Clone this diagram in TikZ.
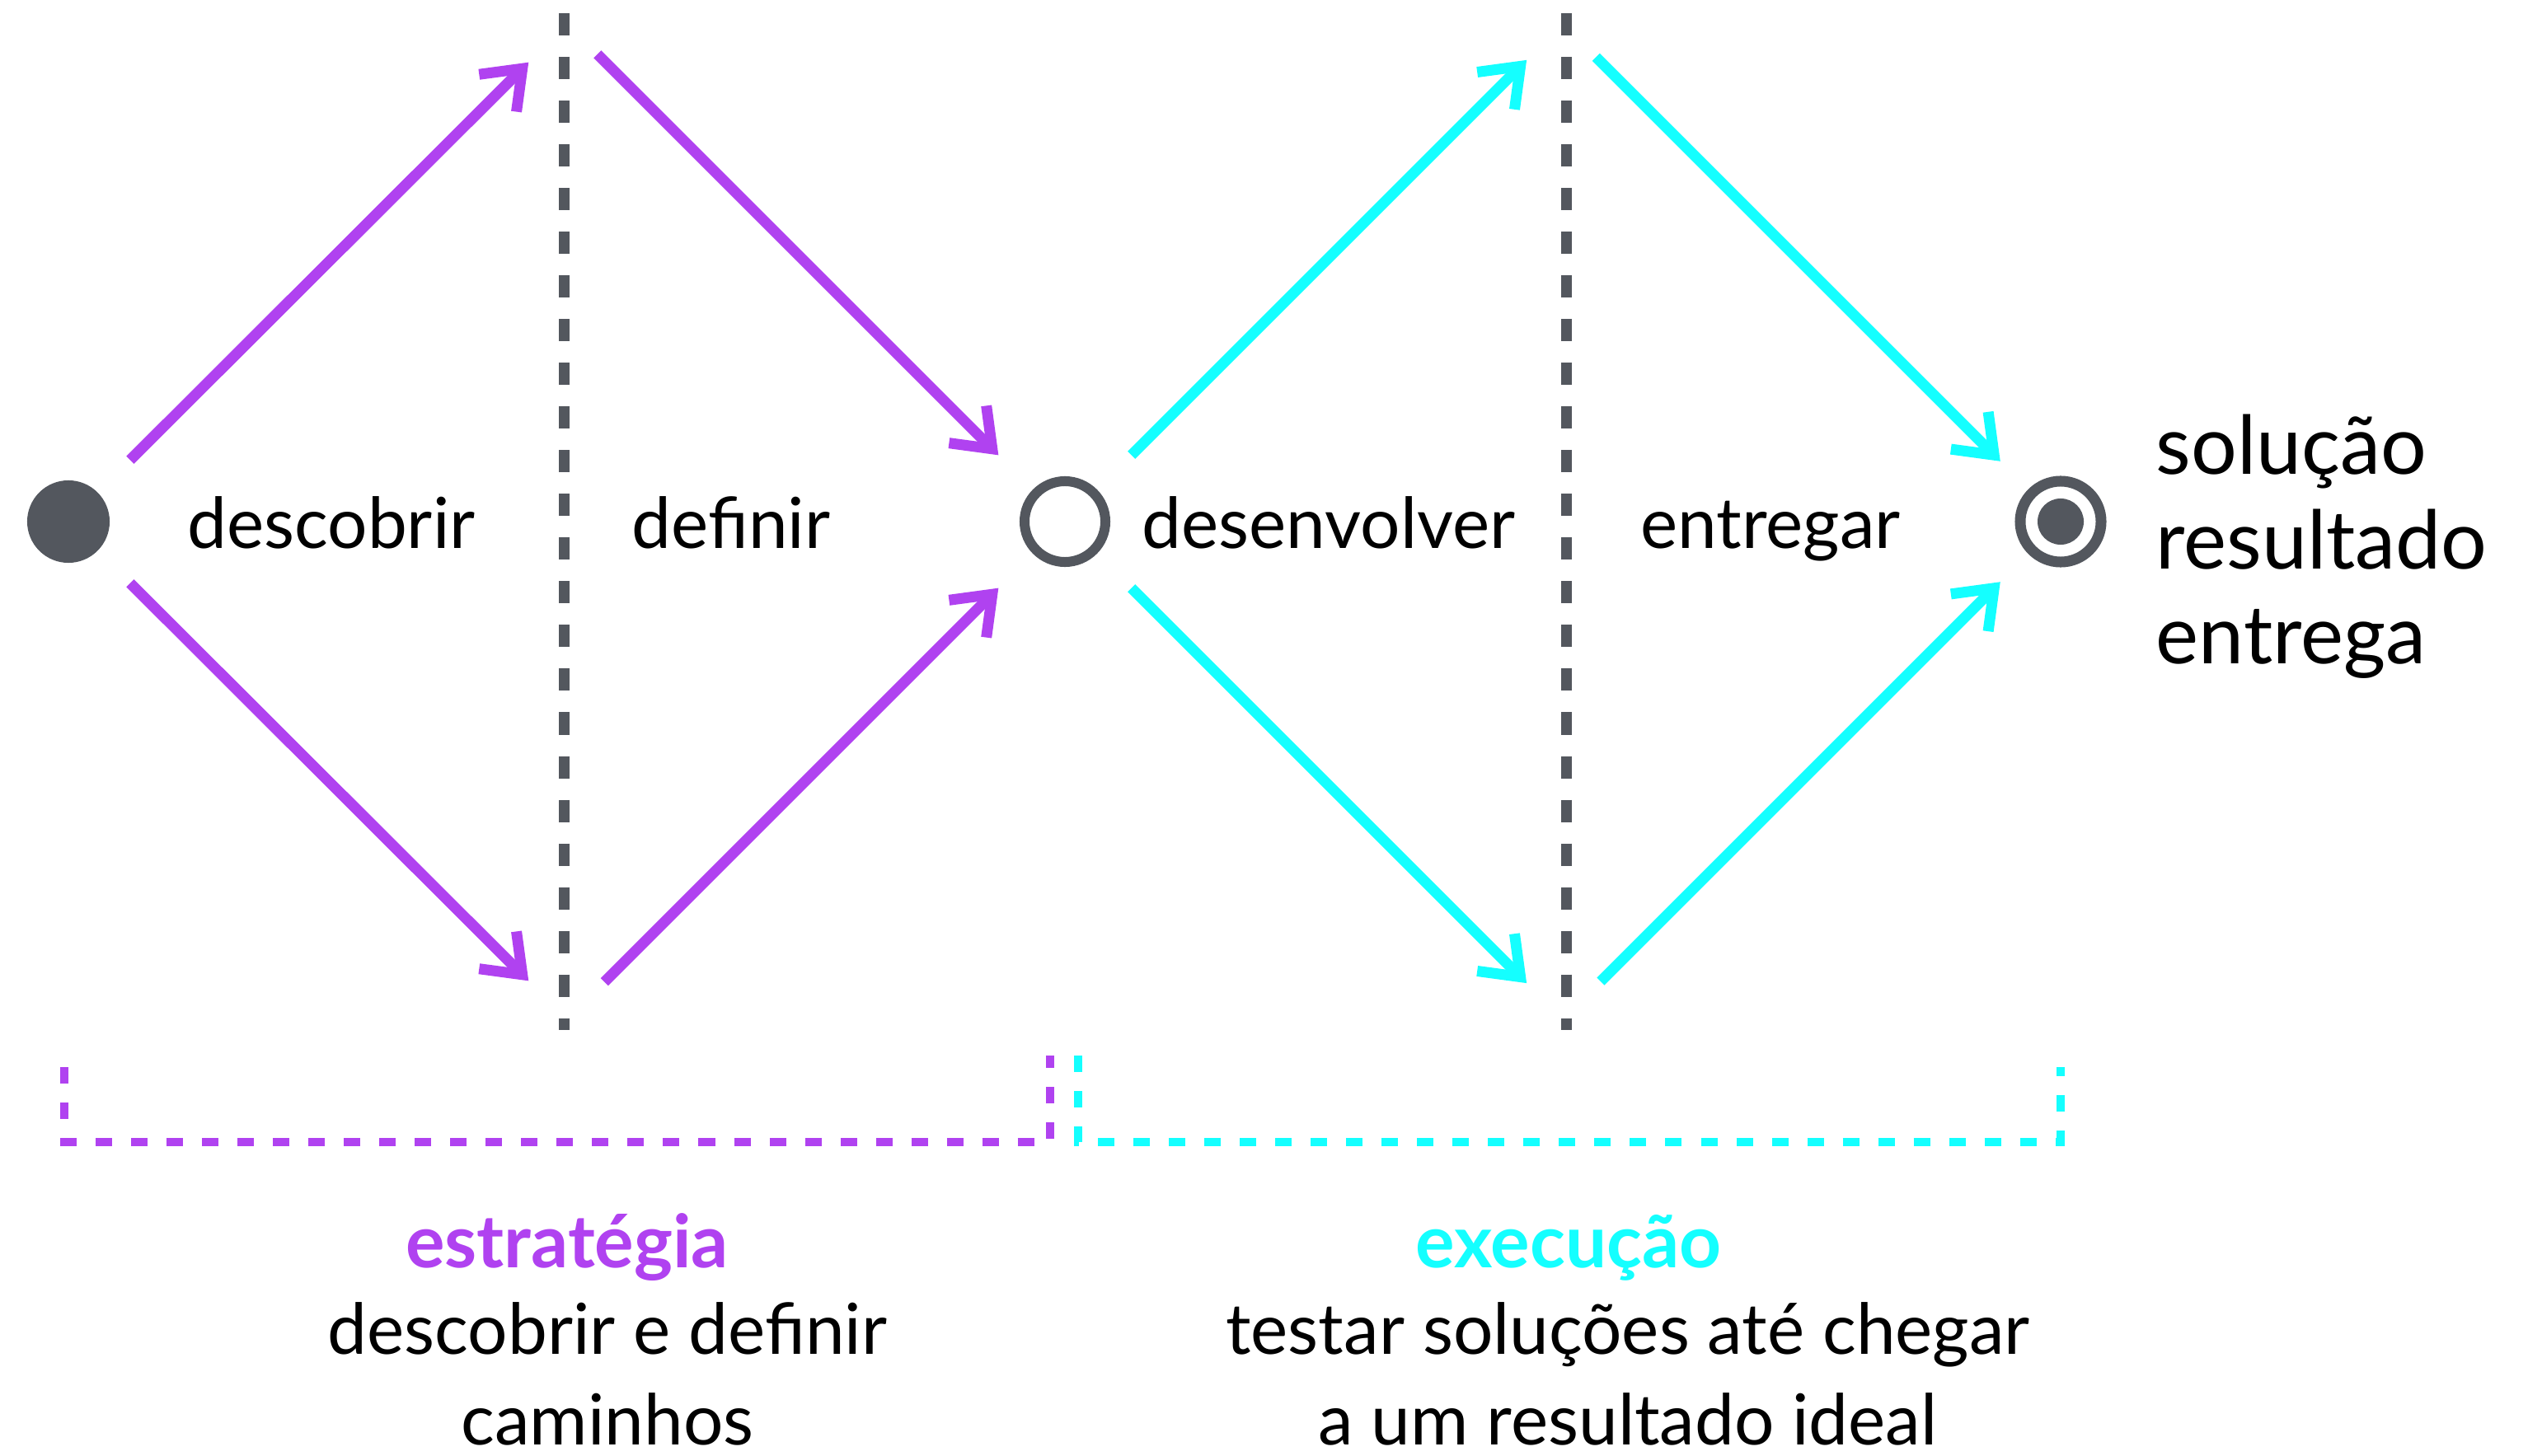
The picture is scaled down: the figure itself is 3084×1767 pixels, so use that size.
\documentclass[tikz,border=0pt]{standalone}
\usepackage{fontspec}
\setmainfont{Lato}
\usetikzlibrary{arrows.meta}
\definecolor{roxo}{HTML}{B042F0}
\definecolor{ciano}{HTML}{14FFFF}
\definecolor{cinza}{HTML}{53575E}

\begin{document}
\begin{tikzpicture}[x=0.01cm,y=-0.01cm,
    seta/.style={line width=0.13cm, -{Straight Barb[length=0.42cm,width=0.64cm]}},
    divisa/.style={cinza, line width=0.13cm, dash pattern=on 0.27cm off 0.26cm},
    chave/.style={line width=0.1cm, dash pattern=on 0.2cm off 0.23cm},
    rotulo/.style={anchor=base, inner sep=0pt, font=\fontsize{24.3}{31}\selectfont},
    fase/.style={anchor=base, inner sep=0pt, font=\fontsize{25.3}{31}\selectfont\bfseries}]
    \useasboundingbox (0,0) rectangle (3084,1767);

    % pontos do diamante duplo
    \node[circle, fill=cinza, minimum size=1cm, inner sep=0pt] (inicio) at (83,633) {};
    \node[circle, draw=cinza, line width=0.12cm, minimum size=0.98cm, inner sep=0pt] (meio) at (1292,633) {};
    \node[circle, draw=cinza, line width=0.13cm, minimum size=0.98cm, inner sep=0pt] (fim) at (2500,633) {};
    \node[circle, fill=cinza, minimum size=0.56cm, inner sep=0pt] (alvo) at (fim) {};

    \coordinate (topo1) at (688,29);
    \coordinate (base1) at (688,1237);
    \coordinate (topo2) at (1896,29);
    \coordinate (base2) at (1896,1237);

    % divisorias
    \draw[divisa] (684,16) -- (684,1250);
    \draw[divisa] (1900,16) -- (1900,1250);

    % setas
    \draw[seta, roxo, shorten <=0.55cm, shorten >=0.66cm] (inicio) -- (topo1);
    \draw[seta, roxo, shorten <=0.55cm, shorten >=0.66cm] (inicio) -- (base1);
    \draw[seta, roxo, shorten <=0.52cm, shorten >=0.59cm] (topo1) -- (meio);
    \draw[seta, roxo, shorten <=0.64cm, shorten >=0.59cm] (base1) -- (meio);
    \draw[seta, ciano, shorten <=0.59cm, shorten >=0.62cm] (meio) -- (topo2);
    \draw[seta, ciano, shorten <=0.59cm, shorten >=0.62cm] (meio) -- (base2);
    \draw[seta, ciano, shorten <=0.57cm, shorten >=0.48cm] (topo2) -- (fim);
    \draw[seta, ciano, shorten <=0.65cm, shorten >=0.48cm] (base2) -- (fim);

    % rotulos
    \node[rotulo] (descobrir) at (402,666) {descobrir};
    \node[rotulo] (definir) at (887,666) {definir};
    \node[rotulo] (desenvolver) at (1612,666) {desenvolver};
    \node[rotulo] (entregar) at (2148,666) {entregar};
    \node[rotulo, anchor=base west, align=left, font=\fontsize{28}{32.7}\selectfont] (resultado) at (2615,805) {solução\\resultado\\entrega};

    % chaves
    \draw[chave, roxo] (78,1295) -- (78,1386) -- (1274,1386) -- (1274,1281);
    \draw[chave, ciano] (1308,1281) -- (1308,1386) -- (2500,1386) -- (2500,1295);

    \node[fase, roxo] (estrategia) at (688,1538) {estratégia};
    \node[rotulo, align=center] (caminhos) at (737,1753) {descobrir e definir\\caminhos};
    \node[fase, ciano] (execucao) at (1903,1538) {execução};
    \node[rotulo, align=center] (ideal) at (1975,1753) {testar soluções até chegar\\a um resultado ideal};
\end{tikzpicture}
\end{document}
